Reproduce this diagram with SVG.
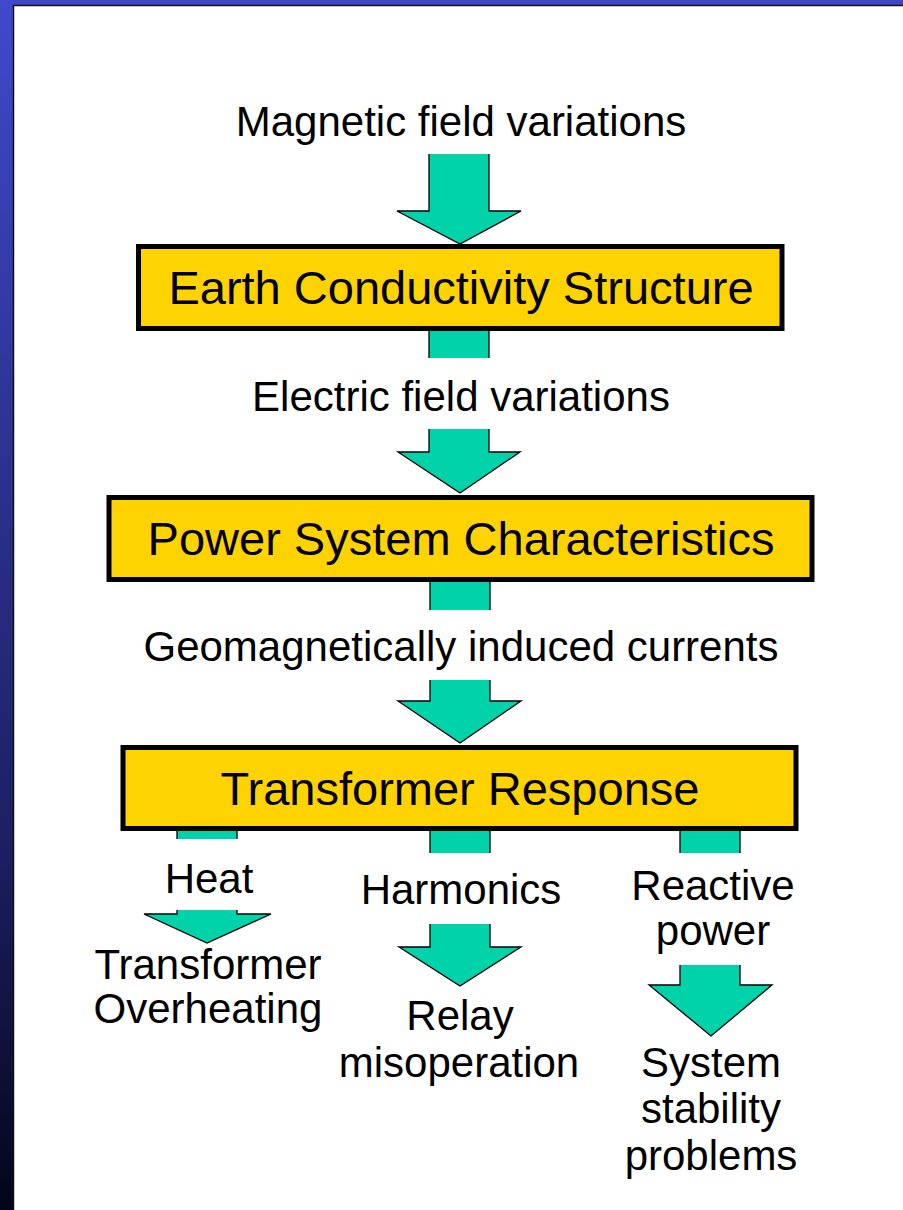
<svg xmlns="http://www.w3.org/2000/svg" width="903" height="1210" viewBox="0 0 903 1210">
<defs>
<linearGradient id="side" x1="0" y1="0" x2="0" y2="1">
<stop offset="0" stop-color="#4049CC"/>
<stop offset="0.35" stop-color="#2D3494"/>
<stop offset="0.7" stop-color="#1C1F62"/>
<stop offset="1" stop-color="#04051A"/>
</linearGradient>
<style>
.box{fill:#FFD300;stroke:#000;stroke-width:5}
.arr{fill:#00D2AA;stroke:#000;stroke-width:1.3}
.stub{fill:#00D2AA;stroke:none}
.edge{stroke:#000;stroke-width:1.3}
text{font-family:"Liberation Sans",Arial,sans-serif;fill:#000;text-anchor:middle}
.big{font-size:47px}
.lbl{font-size:42px}
</style>
</defs>
<rect x="0" y="0" width="903" height="1210" fill="#FFFFFF"/>
<rect x="0" y="0" width="903" height="5" fill="#3F47C8"/>
<rect x="0" y="0" width="13" height="1210" fill="url(#side)"/>
<line x1="13.5" y1="5" x2="13.5" y2="1210" stroke="#111" stroke-width="1.5"/>
<line x1="13" y1="5.5" x2="903" y2="5.5" stroke="#111" stroke-width="1.5"/>

<g id="connectors">
<path class="arr" d="M429,154 L429,211 L397,211 L460,244 L521,211 L489,211 L489,154"/>
<rect class="stub" x="429" y="331" width="60" height="27"/>
<path class="edge" d="M429,331 V358 M489,331 V358"/>
<path class="arr" d="M429,429 L429,452 L398,452 L460,493 L520,452 L489,452 L489,429"/>
<rect class="stub" x="430" y="581" width="60" height="29"/>
<path class="edge" d="M430,581 V610 M490,581 V610"/>
<path class="arr" d="M430,680 L430,701 L398,701 L460,743 L521,701 L490,701 L490,680"/>
<rect class="stub" x="177" y="831" width="60" height="8"/>
<path class="edge" d="M177,831 V839 M237,831 V839"/>
<rect class="stub" x="430" y="831" width="60" height="22"/>
<path class="edge" d="M430,831 V853 M490,831 V853"/>
<rect class="stub" x="680" y="831" width="60" height="22"/>
<path class="edge" d="M680,831 V853 M740,831 V853"/>
<path class="arr" d="M177,910 L177,914 L144,914 L207,943 L271,914 L237,914 L237,910"/>
<path class="arr" d="M430,924 L430,947 L399,947 L460,986 L521,947 L490,947 L490,924"/>
<path class="arr" d="M680,965 L680,985 L649,985 L711,1036 L772,985 L740,985 L740,965"/>
</g>

<g id="magnetic"><text class="lbl" x="461" y="136">Magnetic field variations</text></g>
<g id="earth">
<rect class="box" x="138.5" y="246.5" width="643.5" height="82"/>
<text class="big" x="461" y="304">Earth Conductivity Structure</text>
</g>
<g id="electric"><text class="lbl" x="461" y="411">Electric field variations</text></g>
<g id="power">
<rect class="box" x="109" y="497.5" width="703" height="82"/>
<text class="big" x="461" y="555">Power System Characteristics</text>
</g>
<g id="gic"><text class="lbl" x="461" y="661">Geomagnetically induced currents</text></g>
<g id="transformer">
<rect class="box" x="123" y="747.5" width="673" height="81"/>
<text class="big" x="460" y="805">Transformer Response</text>
</g>
<g id="heat"><text class="lbl" x="209" y="893">Heat</text></g>
<g id="harmonics"><text class="lbl" x="461" y="904">Harmonics</text></g>
<g id="reactive"><text class="lbl" x="713"><tspan x="713" y="900">Reactive</tspan><tspan x="713" y="945">power</tspan></text></g>
<g id="overheating"><text class="lbl"><tspan x="208" y="979">Transformer</tspan><tspan x="208" y="1023">Overheating</tspan></text></g>
<g id="relay"><text class="lbl"><tspan x="460" y="1030">Relay</tspan><tspan x="459" y="1077">misoperation</tspan></text></g>
<g id="stability"><text class="lbl"><tspan x="711" y="1077">System</tspan><tspan x="711" y="1123">stability</tspan><tspan x="711" y="1170">problems</tspan></text></g>
</svg>
